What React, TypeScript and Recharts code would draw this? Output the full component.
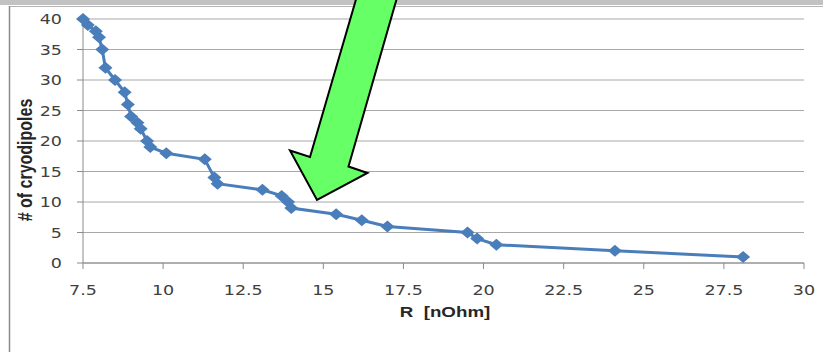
import React from 'react';
import { LineChart, Line, XAxis, YAxis, CartesianGrid } from 'recharts';

// Cumulative count of cryodipoles versus splice resistance
const resistance = [7.5, 7.65, 7.9, 8.0, 8.1, 8.2, 8.5, 8.8, 8.9, 9.0, 9.2, 9.3, 9.5, 9.6, 10.1, 11.3, 11.6, 11.7, 13.1, 13.7, 13.9, 14.0, 15.4, 16.2, 17.0, 19.5, 19.8, 20.4, 24.1, 28.1];
const cryodipoles = [40, 39, 38, 37, 35, 32, 30, 28, 26, 24, 23, 22, 20, 19, 18, 17, 14, 13, 12, 11, 10, 9, 8, 7, 6, 5, 4, 3, 2, 1];
const xTicks = [7.5, 10, 12.5, 15, 17.5, 20, 22.5, 25, 27.5, 30];
const yTicks = [0, 5, 10, 15, 20, 25, 30, 35, 40];
const xTitle = 'R  [nOhm]';
const yTitle = '# of cryodipoles';

const data = resistance.map((r, i) => ({ r, n: cryodipoles[i] }));

const W = 823;
const H = 352;
const BLUE = '#4a7ebb';
const TICK_FONT = '"DejaVu Sans", sans-serif';
const TITLE_FONT = '"Liberation Sans", Arial, sans-serif';

const XTick = (props: any) => {
  const { x, y, payload } = props;
  return (
    <text
      transform={`translate(${x},${y}) scale(1.25,1)`}
      textAnchor="middle"
      dy={10.5}
      fontFamily={TICK_FONT}
      fontSize={14}
      fill="#404040"
    >
      {payload.value}
    </text>
  );
};

const YTick = (props: any) => {
  const { x, y, payload } = props;
  return (
    <text
      transform={`translate(${x},${y}) scale(1.25,1)`}
      textAnchor="end"
      dy={5.1}
      fontFamily={TICK_FONT}
      fontSize={14}
      fill="#404040"
    >
      {payload.value}
    </text>
  );
};

const XTitle = (props: any) => {
  const vb = props.viewBox || { x: 83, y: 263, width: 721, height: 89 };
  const cx = vb.x + vb.width / 2 + 1.5;
  const cy = vb.y + 54;
  return (
    <text
      transform={`translate(${cx},${cy}) scale(1.25,1)`}
      textAnchor="middle"
      fontFamily={TITLE_FONT}
      fontWeight="bold"
      fontSize={15}
      fill="#262626"
      style={{ whiteSpace: 'pre' }}
    >
      {xTitle}
    </text>
  );
};

const YTitle = () => (
  <text
    transform="translate(32,160) scale(1.25,1) rotate(-90)"
    textAnchor="middle"
    fontFamily={TITLE_FONT}
    fontWeight="bold"
    fontSize={16}
    fill="#262626"
  >
    {yTitle}
  </text>
);

const Diamond = (props: any) => {
  const { cx, cy, index } = props;
  if (cx == null || cy == null) return null;
  const w = 7;
  const h = 6;
  return (
    <polygon
      key={`d-${index}`}
      points={`${cx},${cy - h} ${cx + w},${cy} ${cx},${cy + h} ${cx - w},${cy}`}
      fill={BLUE}
    />
  );
};

export default function App() {
  return (
    <div style={{ position: 'absolute', left: 0, top: 0, width: W, height: H, background: '#ffffff', overflow: 'hidden' }}>
      <LineChart
        width={W}
        height={H}
        data={data}
        margin={{ top: 19, right: 19, left: 0, bottom: 0 }}
      >
        <CartesianGrid vertical={false} stroke="#a8a8a8" strokeWidth={1} />
        <XAxis
          dataKey="r"
          type="number"
          domain={[7.5, 30]}
          ticks={xTicks}
          interval={0}
          height={89}
          tickSize={6}
          tickMargin={15}
          axisLine={{ stroke: '#8a8a8a' }}
          tickLine={{ stroke: '#8a8a8a' }}
          tick={<XTick />}
          label={<XTitle />}
        />
        <YAxis
          dataKey="n"
          type="number"
          domain={[0, 40]}
          ticks={yTicks}
          interval={0}
          width={83}
          tickSize={6}
          tickMargin={15}
          axisLine={{ stroke: '#8a8a8a' }}
          tickLine={{ stroke: '#8a8a8a' }}
          tick={<YTick />}
        />
        <Line
          type="linear"
          dataKey="n"
          stroke={BLUE}
          strokeWidth={3}
          dot={<Diamond />}
          activeDot={false}
          isAnimationActive={false}
        />
      </LineChart>
      <svg
        width={W}
        height={H}
        style={{ position: 'absolute', left: 0, top: 0, pointerEvents: 'none' }}
      >
        <YTitle />
        {/* window frame: top band and left border */}
        <rect x={0} y={0} width={W} height={5} fill="#c2c2c2" />
        <line x1={9} y1={6.5} x2={W} y2={6.5} stroke="#b4b4b4" strokeWidth={1} />
        <line x1={9.5} y1={6} x2={9.5} y2={H} stroke="#8a8a8a" strokeWidth={1.5} />
        {/* highlight arrow */}
        <polygon
          points="357,-4 310,157 290,150.5 317,200 367.5,173 348.5,166.5 397.5,-4"
          fill="#66ff66"
          stroke="#000000"
          strokeWidth={2}
          strokeLinejoin="miter"
        />
      </svg>
    </div>
  );
}
